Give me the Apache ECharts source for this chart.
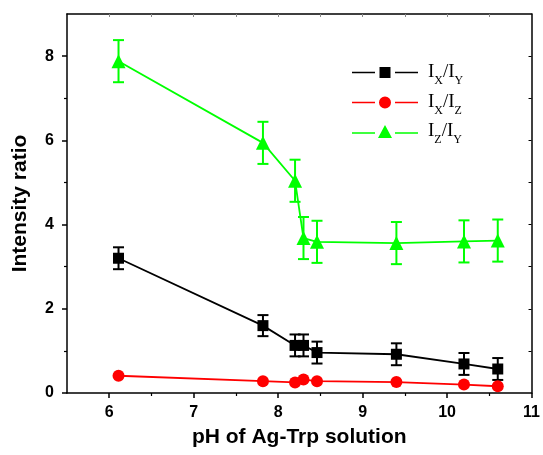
<!DOCTYPE html>
<html><head><meta charset="utf-8">
<script src="https://cdn.jsdelivr.net/npm/echarts@6/dist/echarts.min.js"></script>
<style>html,body{margin:0;padding:0;background:#fff}#c{width:543px;height:455px}</style>
</head><body><div id="c"></div>
<script>
// ---- data ----
const pH = [6.11, 7.82, 8.20, 8.30, 8.46, 9.40, 10.20, 10.60];
const ixIy = [3.20, 1.60, 1.13, 1.13, 0.96, 0.92, 0.69, 0.57];
const ixIyErr = [0.26, 0.25, 0.26, 0.26, 0.26, 0.26, 0.26, 0.26];
const ixIz = [0.41, 0.28, 0.25, 0.32, 0.28, 0.26, 0.20, 0.16];
const izIy = [7.88, 5.94, 5.04, 3.68, 3.59, 3.56, 3.60, 3.62];
const izIyErr = [0.5, 0.5, 0.5, 0.5, 0.5, 0.5, 0.5, 0.5];
const xMajorTicks = [6, 7, 8, 9, 10, 11];
const xMinorTicks = [6.5, 7.5, 8.5, 9.5, 10.5];
const xTopTicks = [6, 6.5, 7, 7.5, 8, 8.5, 9, 9.5, 10, 10.5];
const yMajorTicks = [0, 2, 4, 6, 8];
const yMinorTicks = [1, 3, 5, 7];
const yRightTicks = [1, 2, 3, 4, 5, 6, 7, 8];
const seriesNames = ['IX/IY', 'IX/IZ', 'IZ/IY'];
const xTitle = 'pH of Ag-Trp solution';
const yTitle = 'Intensity ratio';

const SANS = 'Liberation Sans, Arial, sans-serif';
const SERIF = 'Liberation Serif, Times New Roman, serif';
const XMIN = 5.5, XMAX = 11, YMIN = 0, YMAX = 9;

const chart = echarts.init(document.getElementById('c'), null, {renderer: 'canvas'});

const lbl = {fontFamily: SANS, fontSize: 16, fontWeight: 'bold', color: '#000'};
const axLine = {show: true, onZero: false, lineStyle: {color: '#000', width: 1.5}};

function errSeries(name, ys, errs, color) {
  return {
    type: 'custom', name: name, silent: true, z: 2,
    xAxisIndex: 0, yAxisIndex: 0,
    data: pH.map((x, i) => [x, ys[i], errs[i]]),
    encode: {x: 0, y: 1},
    renderItem: function (params, api) {
      const x = api.value(0), y = api.value(1), e = api.value(2);
      const t = api.coord([x, y + e]);
      const b = api.coord([x, y - e]);
      const hw = 5.5;
      const st = {stroke: color, lineWidth: 2};
      return {type: 'group', children: [
        {type: 'line', shape: {x1: t[0], y1: t[1], x2: b[0], y2: b[1]}, style: st},
        {type: 'line', shape: {x1: t[0] - hw, y1: t[1], x2: t[0] + hw, y2: t[1]}, style: st},
        {type: 'line', shape: {x1: b[0] - hw, y1: b[1], x2: b[0] + hw, y2: b[1]}, style: st}
      ]};
    }
  };
}

function lineSeries(name, ys, symbol, size, color) {
  return {
    type: 'line', name: name, z: 3,
    xAxisIndex: 0, yAxisIndex: 0,
    data: pH.map((x, i) => [x, ys[i]]),
    symbol: symbol, symbolSize: size, showSymbol: true,
    lineStyle: {color: color, width: 1.8},
    itemStyle: {color: color},
    emphasis: {disabled: true}
  };
}

const richText = {
  g: {width: 5, fontSize: 10},
  m: {fontFamily: SERIF, fontSize: 19, color: '#000', lineHeight: 10, verticalAlign: 'middle'},
  s: {fontFamily: SERIF, fontSize: 12, color: '#000', lineHeight: 10, verticalAlign: 'middle', padding: [17, 0, 0, 0]}
};
function legendFor(name, icon, h, top) {
  return {
    data: [{name: name, icon: icon}],
    left: 352, top: top, padding: 0,
    itemWidth: 66, itemHeight: h,
    selectedMode: false,
    formatter: n => '{g| }{m|I}{s|' + n[1] + '}{m|/I}{s|' + n[4] + '}',
    textStyle: {rich: richText}
  };
}
const iconSquare = 'path://M0,4.75h23v1.5h-23z M27.5,0h11v11h-11z M43,4.75h23v1.5h-23z';
const iconCircle = 'path://M0,5.25h23v1.5h-23z M39,6a6,6 0 1,1 -12,0a6,6 0 1,1 12,0z M43,5.25h23v1.5h-23z';
const iconTri = 'path://M0,7.25h23v1.5h-23z M33,0L40,13L26,13z M43,7.25h23v1.5h-23z';

const option = {
  animation: false,
  backgroundColor: '#fff',
  grid: {left: 67, right: 10, top: 14, bottom: 62, containLabel: false},
  legend: [
    legendFor(seriesNames[0], iconSquare, 11, 58),
    legendFor(seriesNames[1], iconCircle, 12, 88),
    legendFor(seriesNames[2], iconTri, 13, 117)
  ],
  xAxis: [
    {type: 'value', min: XMIN, max: XMAX, position: 'bottom',
     axisLine: axLine, splitLine: {show: false},
     axisTick: {show: true, customValues: xMajorTicks, length: 5, lineStyle: {color: '#000', width: 1.5}},
     axisLabel: Object.assign({customValues: xMajorTicks, margin: 12}, lbl),
     name: xTitle, nameLocation: 'middle', nameGap: 34,
     nameTextStyle: {fontFamily: SANS, fontSize: 21, fontWeight: 'bold', color: '#000'}},
    {type: 'value', min: XMIN, max: XMAX, position: 'bottom',
     axisLine: {show: false, onZero: false}, splitLine: {show: false},
     axisTick: {show: true, customValues: xMinorTicks, length: 3, lineStyle: {color: '#000', width: 1.2}},
     axisLabel: {show: false}},
    {type: 'value', min: XMIN, max: XMAX, position: 'top',
     axisLine: axLine, splitLine: {show: false},
     axisTick: {show: true, inside: true, customValues: xTopTicks, length: 3, lineStyle: {color: '#888', width: 1}},
     axisLabel: {show: false}}
  ],
  yAxis: [
    {type: 'value', min: YMIN, max: YMAX, position: 'left',
     axisLine: axLine, splitLine: {show: false},
     axisTick: {show: true, customValues: yMajorTicks, length: 5, lineStyle: {color: '#000', width: 1.5}},
     axisLabel: Object.assign({customValues: yMajorTicks, margin: 13}, lbl),
     name: yTitle, nameLocation: 'middle', nameGap: 36, nameRotate: 90,
     nameTextStyle: {fontFamily: SANS, fontSize: 21, fontWeight: 'bold', color: '#000'}},
    {type: 'value', min: YMIN, max: YMAX, position: 'left',
     axisLine: {show: false, onZero: false}, splitLine: {show: false},
     axisTick: {show: true, customValues: yMinorTicks, length: 3, lineStyle: {color: '#000', width: 1.2}},
     axisLabel: {show: false}},
    {type: 'value', min: YMIN, max: YMAX, position: 'right',
     axisLine: axLine, splitLine: {show: false},
     axisTick: {show: true, inside: true, customValues: yRightTicks, length: 3, lineStyle: {color: '#000', width: 1}},
     axisLabel: {show: false}}
  ],
  series: [
    errSeries('errXY', ixIy, ixIyErr, '#000000'),
    errSeries('errZY', izIy, izIyErr, '#00ff00'),
    lineSeries(seriesNames[0], ixIy, 'rect', 11, '#000000'),
    lineSeries(seriesNames[1], ixIz, 'circle', 12, '#ff0000'),
    lineSeries(seriesNames[2], izIy, 'triangle', 14, '#00ff00')
  ]
};
chart.setOption(option);
</script>
</body></html>
